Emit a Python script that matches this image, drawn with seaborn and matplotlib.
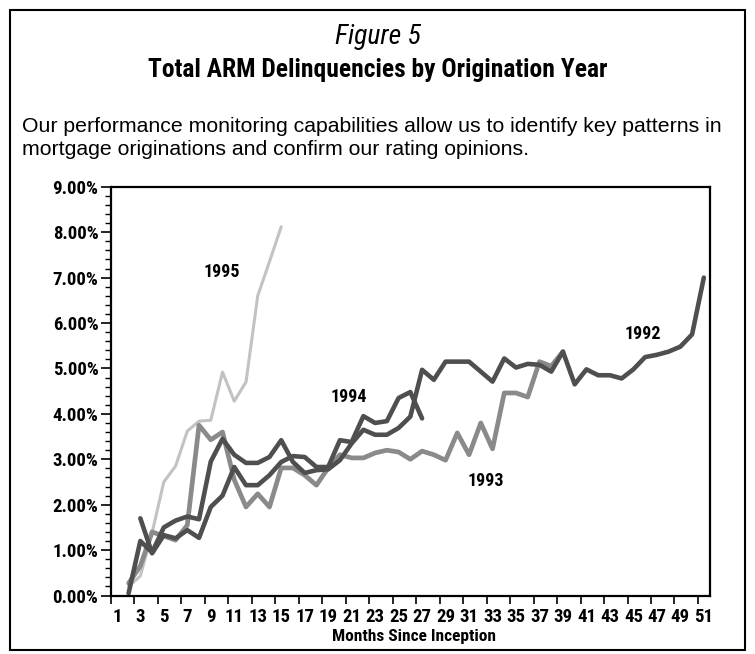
import numpy as np
import pandas as pd
import matplotlib
matplotlib.use("Agg")
import matplotlib.pyplot as plt
from matplotlib.patches import Rectangle
from matplotlib.ticker import MultipleLocator, FixedLocator, FuncFormatter
import seaborn as sns

# Delinquency rate (%) by months since inception
months_1992 = list(range(2, 52))
rate_1992 = [0.05, 1.2, 0.95, 1.5, 1.65, 1.74, 1.68, 2.95, 3.45, 3.1,
             2.92, 2.92, 3.05, 3.42, 2.94, 2.7, 2.76, 2.78, 2.98, 3.35,
             3.65, 3.54, 3.54, 3.69, 3.94, 4.97, 4.75, 5.15, 5.15, 5.15,
             4.93, 4.71, 5.22, 5.02, 5.1, 5.08, 4.93, 5.37, 4.65, 4.98,
             4.85, 4.85, 4.78, 4.98, 5.25, 5.3, 5.37, 5.48, 5.75, 7.0]

months_1993 = list(range(2, 40))
rate_1993 = [0.27, 0.65, 1.4, 1.31, 1.22, 1.55, 3.75, 3.43, 3.6, 2.55,
             1.95, 2.24, 1.95, 2.81, 2.81, 2.65, 2.43, 2.81, 3.1, 3.03,
             3.03, 3.14, 3.2, 3.16, 3.0, 3.18, 3.1, 2.98, 3.58, 3.1,
             3.8, 3.23, 4.46, 4.46, 4.37, 5.15, 5.05, 5.37]

months_1994 = list(range(3, 28))
rate_1994 = [1.7, 0.93, 1.33, 1.26, 1.44, 1.27, 1.95, 2.2, 2.83, 2.43,
             2.43, 2.65, 2.94, 3.07, 3.05, 2.83, 2.83, 3.42, 3.38, 3.95,
             3.8, 3.84, 4.35, 4.48, 3.9]

months_1995 = list(range(2, 16))
rate_1995 = [0.2, 0.43, 1.38, 2.5, 2.85, 3.62, 3.84, 3.86, 4.92, 4.28,
             4.7, 6.6, 7.35, 8.12]

month_labels = list(range(1, 52, 2))

sns.set_theme(style="white")
plt.rcParams["font.family"] = ["Liberation Sans", "DejaVu Sans"]
plt.rcParams["text.color"] = "black"
plt.rcParams["xtick.color"] = "black"
plt.rcParams["ytick.color"] = "black"
narrow = ["Roboto Condensed", "Liberation Sans"]

fig = plt.figure(figsize=(7.55, 6.54), dpi=100)
ax = fig.add_axes([0.147, 0.0894, 0.793, 0.625])

series = [
    (months_1995, rate_1995, "#c2c2c2", 2.2),
    (months_1993, rate_1993, "#8a8a8a", 3.4),
    (months_1994, rate_1994, "#4f4f4f", 3.3),
    (months_1992, rate_1992, "#4f4f4f", 3.3),
]
for m, r, c, lw in series:
    df = pd.DataFrame({"month": m, "rate": r})
    sns.lineplot(data=df, x="month", y="rate", color=c, linewidth=lw, ax=ax)

ax.set_xlim(0.5, 51.5)
ax.set_ylim(0, 9)
ax.set_xlabel("")
ax.set_ylabel("")

# x: labels on odd months, tick marks on category boundaries
ax.xaxis.set_major_locator(FixedLocator(month_labels))
ax.set_xticklabels([str(v) for v in month_labels])
ax.xaxis.set_minor_locator(FixedLocator(np.arange(0.5, 51, 2)))
ax.tick_params(axis="x", which="major", length=0, pad=9, labelsize=13.5)
ax.tick_params(axis="x", which="minor", length=6, width=1.2,
               direction="out", bottom=True)

ax.yaxis.set_major_locator(MultipleLocator(1))
ax.yaxis.set_minor_locator(MultipleLocator(0.2))
ax.yaxis.set_major_formatter(FuncFormatter(lambda v, p: f"{v:.2f}%"))
ax.tick_params(axis="y", which="major", length=7, width=1.2,
               direction="out", left=True, labelsize=13.5, pad=2)
ax.tick_params(axis="y", which="minor", length=4, width=1.0,
               direction="out", left=True)
for lab in ax.get_xticklabels() + ax.get_yticklabels():
    lab.set_fontweight("bold")
    lab.set_family(narrow)

for s in ax.spines.values():
    s.set_visible(True)
    s.set_color("black")
    s.set_linewidth(1.6)
ax.grid(False)

# series labels
for xm, yv, txt in [(9.95, 7.13, "1995"), (20.8, 4.37, "1994"),
                    (32.4, 2.52, "1993"), (45.8, 5.76, "1992")]:
    ax.text(xm, yv, txt, ha="center", va="center", fontsize=13,
            fontweight="bold", family=narrow)

fig.text(0.548, 0.026, "Months Since Inception", ha="center", va="center",
         fontsize=12.5, fontweight="bold", family=narrow)

fig.text(0.5, 0.943, "Figure 5", ha="center", va="center", fontsize=20,
         style="italic", family=narrow)
fig.text(0.5, 0.893, "Total ARM Delinquencies by Origination Year", ha="center",
         va="center", fontsize=18.4, fontweight="bold", family=narrow)
fig.text(0.029, 0.807,
         "Our performance monitoring capabilities allow us to identify key patterns in",
         ha="left", va="center", fontsize=15.3)
fig.text(0.029, 0.772,
         "mortgage originations and confirm our rating opinions.",
         ha="left", va="center", fontsize=15.3)

fig.patches.append(Rectangle((10 / 755, 4 / 654), 735 / 755, 640 / 654,
                             transform=fig.transFigure, fill=False,
                             edgecolor="black", linewidth=1.5))

fig.savefig("out.png", dpi=100)
